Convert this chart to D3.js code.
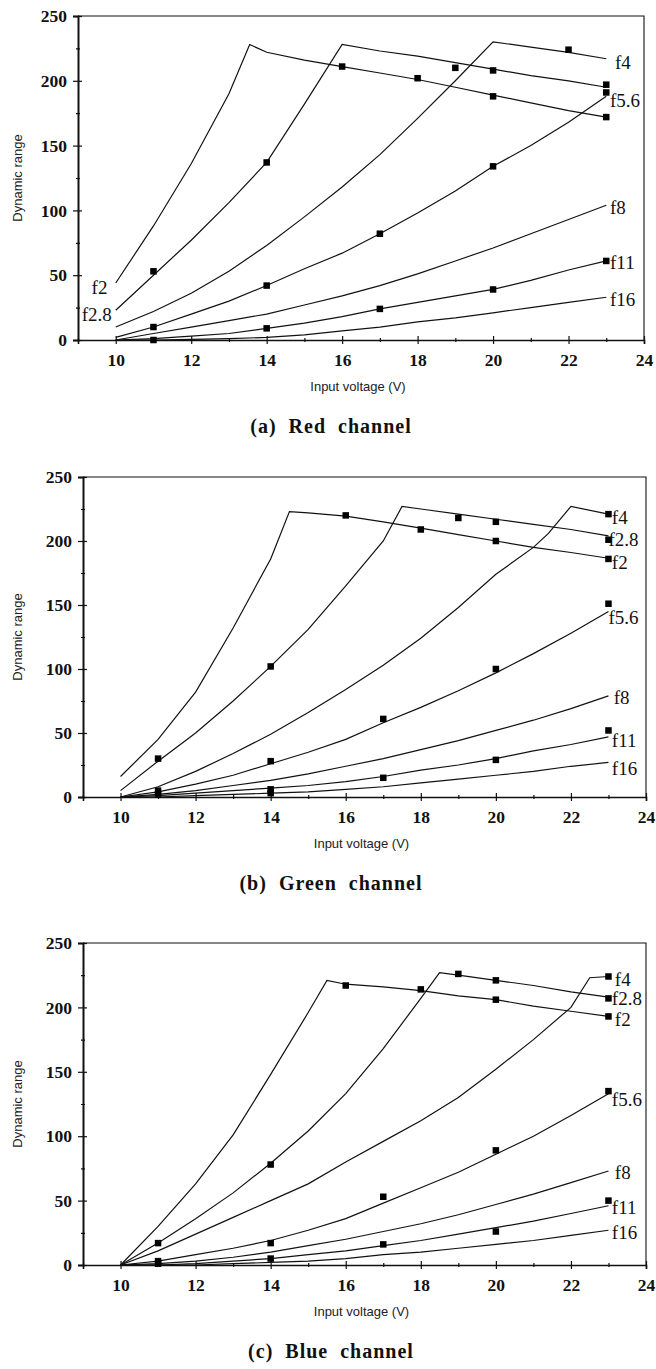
<!DOCTYPE html>
<html>
<head>
<meta charset="utf-8">
<script src="https://cdn.jsdelivr.net/npm/d3@7"></script>
<style>
  body { margin: 0; background: #fff; }
  svg { display: block; }
</style>
</head>
<body>
<div id="chart"></div>
<script>
// ---- values, [input voltage, dynamic range] ----

// (a) red channel
var redF2   = [[10,44],[11,88],[12,136],[13,190],[13.55,228],[14,222],[15,216],[16,211],[17,206],[18,201],[19,195],[20,189],[21,183],[22,177],[23,172]];
var redF28  = [[10,23],[11,50],[12,77],[13,106],[14,137],[15,182],[16,228],[17,223],[18,219],[19,214],[20,209],[21,204],[22,200],[23,195]];
var redF4   = [[10,10],[11,22],[12,36],[13,53],[14,73],[15,95],[16,118],[17,143],[18,171],[19,200],[20,230],[21,226],[22,222],[23,217]];
var redF56  = [[10,2],[11,10],[12,20],[13,30],[14,42],[15,55],[16,67],[17,82],[18,98],[19,115],[20,134],[21,150],[22,168],[23,188]];
var redF8   = [[10,0],[11,5],[12,10],[13,15],[14,20],[15,27],[16,34],[17,42],[18,51],[19,61],[20,71],[21,82],[22,93],[23,104]];
var redF11  = [[10,0],[11,1],[12,3],[13,5],[14,9],[15,13],[16,18],[17,24],[18,29],[19,34],[20,39],[21,46],[22,54],[23,61]];
var redF16  = [[10,0],[11,0],[12,0.5],[13,1],[14,2],[15,4],[16,7],[17,10],[18,14],[19,17],[20,21],[21,25],[22,29],[23,33]];
var redMarks = [[11,53],[11,10],[11,0],[14,137],[14,42],[14,9],[16,211],[17,82],[17,24],[18,202],[19,210],[20,208],[20,188],[20,134],[20,39],[22,224],[23,197],[23,191],[23,172],[23,61]];
var redLabels = [["f2",9.36,40.5],["f2.8",9.1,20],["f4",23.23,214.5],["f5.6",23.1,185],["f8",23.1,102.6],["f11",23.1,60],["f16",23.1,31]];

// (b) green channel
var greenF2  = [[10,16],[11,45],[12,82],[13,132],[14,186],[14.5,223],[15,222],[16,219.5],[17,215],[18,210],[19,205],[20,200],[21,195],[22,191],[23,186.5]];
var greenF28 = [[10,5],[11,28],[12,50],[13,75],[14,102],[15,131],[16,165],[17,200],[17.5,227],[18,225],[19,221],[20,217],[21,213],[22,209],[23,204]];
var greenF4  = [[10,0],[11,8],[12,20],[13,34],[14,49],[15,66],[16,84],[17,103],[18,124],[19,148],[20,174],[21,195],[21.4,206],[22,227],[23,221]];
var greenF56 = [[10,0],[11,4],[12,10],[13,17],[14,26],[15,35],[16,45],[17,58],[18,70],[19,83],[20,97],[21,112],[22,128],[23,145]];
var greenF8  = [[10,0],[11,2],[12,5],[13,9],[14,13],[15,18],[16,24],[17,30],[18,37],[19,44],[20,52],[21,60],[22,69],[23,79]];
var greenF11 = [[10,0],[11,1],[12,3],[13,5],[14,7],[15,9],[16,12],[17,16],[18,21],[19,25],[20,30],[21,36],[22,41],[23,47]];
var greenF16 = [[10,0],[11,0],[12,1],[13,2],[14,3],[15,4],[16,6],[17,8],[18,11],[19,14],[20,17],[21,20],[22,24],[23,27]];
var greenMarks = [[11,30],[11,5],[11,2],[14,102],[14,28],[14,6],[14,3],[16,220],[17,61],[17,15],[18,209],[19,218],[20,215],[20,200],[20,100],[20,29],[23,221],[23,201],[23,186],[23,151],[23,52]];
var greenLabels = [["f4",23.09,218.8],["f2.8",23.0,201.5],["f2",23.09,183.6],["f5.6",23.0,140],["f8",23.14,78],["f11",23.09,44.5],["f16",23.09,22.6]];

// (c) blue channel
var blueF2  = [[10,0],[11,30],[12,63],[13,101],[14,148],[15,196],[15.5,221],[16,218],[17,216],[18,213],[19,209],[20,206],[21,201],[22,197],[23,193]];
var blueF28 = [[10,0],[11,17],[12,36],[13,56],[14,79],[15,104],[16,133],[17,168],[18,207],[18.5,227],[19,225],[20,221],[21,217],[22,212],[23,208]];
var blueF4  = [[10,0],[11,11],[12,24],[13,37],[14,50],[15,63],[16,80],[17,96],[18,112],[19,130],[20,152],[21,175],[22,200],[22.5,223],[23,224]];
var blueF56 = [[10,0],[11,3],[12,8],[13,13],[14,19],[15,27],[16,36],[17,48],[18,60],[19,72],[20,86],[21,100],[22,116],[23,133]];
var blueF8  = [[10,0],[11,1],[12,3],[13,6],[14,10],[15,15],[16,20],[17,26],[18,32],[19,39],[20,47],[21,55],[22,64],[23,73]];
var blueF11 = [[10,0],[11,0],[12,1],[13,3],[14,5],[15,8],[16,11],[17,15],[18,19],[19,24],[20,29],[21,34],[22,40],[23,46]];
var blueF16 = [[10,0],[11,0],[12,0],[13,1],[14,2],[15,3],[16,5],[17,8],[18,10],[19,13],[20,16],[21,19],[22,23],[23,27]];
var blueMarks = [[11,17],[11,3],[11,1],[14,78],[14,17],[14,5],[16,217],[17,53],[17,16],[18,214],[19,226],[20,221],[20,206],[20,89],[20,26],[23,224],[23,207],[23,193],[23,135],[23,50]];
var blueLabels = [["f4",23.17,222],["f2.8",23.09,207],["f2",23.17,191],["f5.6",23.09,128.5],["f8",23.17,71.6],["f11",23.09,45],["f16",23.09,25.7]];

// axis ticks
var xMajor = [10, 12, 14, 16, 18, 20, 22, 24];
var xMinor = [9, 11, 13, 15, 17, 19, 21, 23];
var yMajor = [0, 50, 100, 150, 200, 250];
var yMinor = [25, 75, 125, 175, 225];

var width = 656;
var height = 1369;

var svg = d3.select("#chart").append("svg")
    .attr("width", width)
    .attr("height", height)
    .style("background", "#fff");

var panels = [
    {curves: [redF2, redF28, redF4, redF56, redF8, redF11, redF16], marks: redMarks, labels: redLabels,
     title: "(a)  Red  channel", left: 78, right: 644, top: 16, bottom: 340},
    {curves: [greenF2, greenF28, greenF4, greenF56, greenF8, greenF11, greenF16], marks: greenMarks, labels: greenLabels,
     title: "(b)  Green  channel", left: 83, right: 646, top: 477, bottom: 797},
    {curves: [blueF2, blueF28, blueF4, blueF56, blueF8, blueF11, blueF16], marks: blueMarks, labels: blueLabels,
     title: "(c)  Blue  channel", left: 83, right: 646, top: 943, bottom: 1265}
];

panels.forEach(drawPanel);

function drawPanel(p) {
    var x = d3.scaleLinear().domain([9, 24]).range([p.left, p.right]);
    var y = d3.scaleLinear().domain([0, 250]).range([p.bottom, p.top]);

    var g = svg.append("g");

    // frame (top + right)
    g.append("path")
        .attr("d", "M" + x(9) + "," + y(250) + "H" + x(24) + "V" + y(0))
        .attr("fill", "none")
        .attr("stroke", "#111")
        .attr("stroke-width", 1.1);

    // y axis: labels + outer major ticks
    var yAxis = g.append("g")
        .attr("transform", "translate(" + x(9) + ",0)")
        .call(d3.axisLeft(y).tickValues(yMajor).tickSize(5).tickPadding(6).tickFormat(d3.format("d")));
    yAxis.select(".domain").attr("stroke-width", 2);
    // inner part of major ticks
    g.append("g")
        .attr("transform", "translate(" + x(9) + ",0)")
        .call(d3.axisRight(y).tickValues(yMajor).tickSize(4).tickFormat(""))
        .select(".domain").remove();
    // minor ticks
    g.append("g")
        .attr("transform", "translate(" + x(9) + ",0)")
        .call(d3.axisLeft(y).tickValues(yMinor).tickSize(2).tickFormat(""))
        .select(".domain").remove();
    g.append("g")
        .attr("transform", "translate(" + x(9) + ",0)")
        .call(d3.axisRight(y).tickValues(yMinor).tickSize(2).tickFormat(""))
        .select(".domain").remove();

    // x axis
    var xAxis = g.append("g")
        .attr("transform", "translate(0," + y(0) + ")")
        .call(d3.axisBottom(x).tickValues(xMajor).tickSize(4).tickPadding(10).tickFormat(d3.format("d")));
    xAxis.select(".domain").attr("stroke-width", 1.6);
    g.append("g")
        .attr("transform", "translate(0," + y(0) + ")")
        .call(d3.axisTop(x).tickValues(xMajor).tickSize(4).tickFormat(""))
        .select(".domain").remove();
    g.append("g")
        .attr("transform", "translate(0," + y(0) + ")")
        .call(d3.axisBottom(x).tickValues(xMinor).tickSize(2).tickFormat(""))
        .select(".domain").remove();
    g.append("g")
        .attr("transform", "translate(0," + y(0) + ")")
        .call(d3.axisTop(x).tickValues(xMinor).tickSize(2).tickFormat(""))
        .select(".domain").remove();

    g.selectAll(".tick line").attr("stroke", "#111").attr("stroke-width", 1.2);
    g.selectAll(".tick text")
        .attr("fill", "#111")
        .style("font-family", "'Liberation Serif', 'Times New Roman', serif")
        .style("font-weight", "bold")
        .style("font-size", "17.5px");
    g.selectAll(".domain").attr("stroke", "#111");

    // curves
    var line = d3.line()
        .x(function(d) { return x(d[0]); })
        .y(function(d) { return y(d[1]); });

    g.selectAll("path.curve")
        .data(p.curves)
        .enter()
        .append("path")
        .attr("class", "curve")
        .attr("d", line)
        .attr("fill", "none")
        .attr("stroke", "#111")
        .attr("stroke-width", 1.2);

    // measured points
    var s = 6.5;
    g.selectAll("rect.mark")
        .data(p.marks)
        .enter()
        .append("rect")
        .attr("class", "mark")
        .attr("x", function(d) { return x(d[0]) - s / 2; })
        .attr("y", function(d) { return y(d[1]) - s / 2; })
        .attr("width", s)
        .attr("height", s)
        .attr("fill", "#000");

    // f-number labels
    g.selectAll("text.flabel")
        .data(p.labels)
        .enter()
        .append("text")
        .attr("class", "flabel")
        .attr("x", function(d) { return x(d[1]); })
        .attr("y", function(d) { return y(d[2]); })
        .attr("dy", "0.35em")
        .style("font-family", "'Liberation Serif', 'Times New Roman', serif")
        .style("font-size", "19px")
        .attr("fill", "#111")
        .text(function(d) { return d[0]; });

    // axis titles
    g.append("text")
        .attr("x", (x(9) + x(24)) / 2 - 3)
        .attr("y", y(0) + 51)
        .attr("text-anchor", "middle")
        .style("font-family", "'Liberation Sans', Arial, sans-serif")
        .style("font-size", "13px")
        .attr("fill", "#222")
        .text("Input voltage (V)");

    g.append("text")
        .attr("transform", "translate(22," + ((y(0) + y(250)) / 2) + ") rotate(-90)")
        .attr("text-anchor", "middle")
        .style("font-family", "'Liberation Sans', Arial, sans-serif")
        .style("font-size", "13px")
        .attr("fill", "#222")
        .text("Dynamic range");

    // panel caption
    g.append("text")
        .attr("x", 331)
        .attr("y", y(0) + 93)
        .attr("text-anchor", "middle")
        .style("font-family", "'Liberation Serif', 'Times New Roman', serif")
        .style("font-weight", "bold")
        .style("font-size", "20px")
        .style("letter-spacing", "1px")
        .style("white-space", "pre")
        .attr("fill", "#111")
        .text(p.title);
}
</script>
</body>
</html>
